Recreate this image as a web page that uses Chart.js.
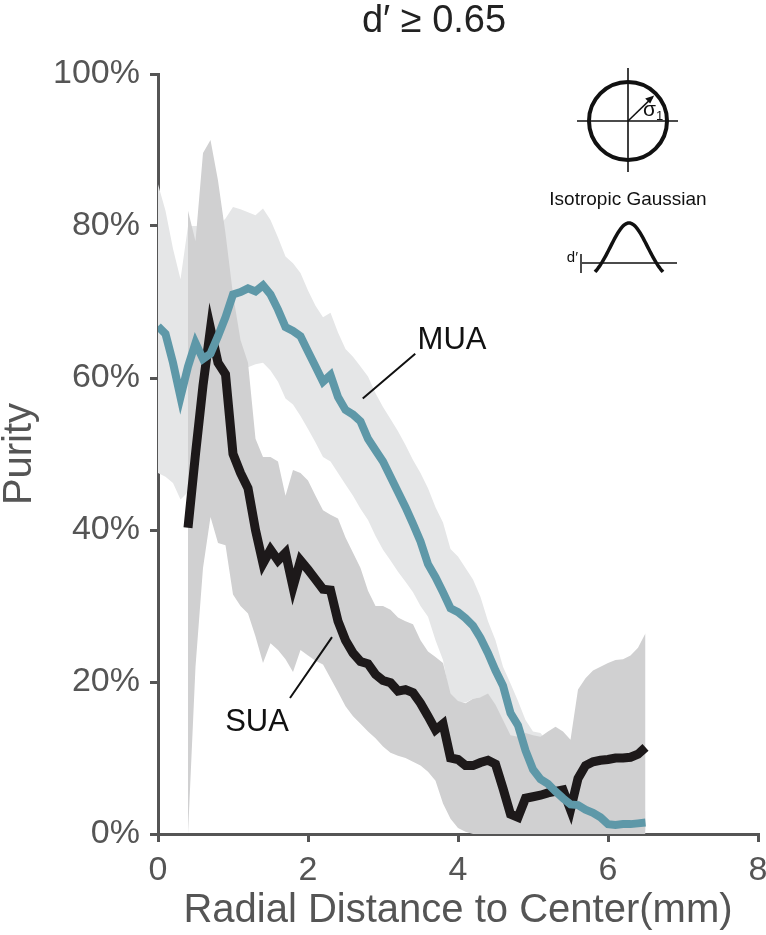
<!DOCTYPE html>
<html>
<head>
<meta charset="utf-8">
<script src="https://cdn.jsdelivr.net/npm/chart.js@4.4.1/dist/chart.umd.min.js"></script>
<style>
  body { margin: 0; background: #fff; }
  #wrap { width: 766px; height: 935px; }
</style>
</head>
<body>
<div id="wrap"><canvas id="purityChart"></canvas></div>
<script>
// radial distance (mm), sampled every 0.1 mm
const distances = [
  0.0, 0.1, 0.2, 0.3, 0.4, 0.5, 0.6, 0.7, 0.8, 0.9,
  1.0, 1.1, 1.2, 1.3, 1.4, 1.5, 1.6, 1.7, 1.8, 1.9,
  2.0, 2.1, 2.2, 2.3, 2.4, 2.5, 2.6, 2.7, 2.8, 2.9,
  3.0, 3.1, 3.2, 3.3, 3.4, 3.5, 3.6, 3.7, 3.8, 3.9,
  4.0, 4.1, 4.2, 4.3, 4.4, 4.5, 4.6, 4.7, 4.8, 4.9,
  5.0, 5.1, 5.2, 5.3, 5.4, 5.5, 5.6, 5.7, 5.8, 5.9,
  6.0, 6.1, 6.2, 6.3, 6.4, 6.5
];

// MUA purity (%) with its shaded range
const muaPurity = [
  66.8, 65.8, 62, 57.5, 61.5, 64.6, 62.5, 63.2, 65.5, 68,
  71, 71.3, 71.8, 71.4, 72.2, 71, 69, 66.7, 66.2, 65.5,
  63.5, 61.5, 59.5, 60.4, 57.5, 55.8, 55.2, 54.3, 52, 50.5,
  49, 47, 45, 43, 40.8, 38.5, 35.5, 33.8, 31.8, 29.7,
  29.2, 28.4, 27.4, 25.8, 23.8, 21.5, 19.5, 15.9, 14.3, 11,
  8.5, 7.2, 6.6, 5.6, 4.7, 3.9, 3.8, 3.2, 2.8, 2.2,
  1.3, 1.2, 1.3, 1.3, 1.4, 1.5
];
const muaUpper = [
  85.5, 82, 77, 73, 80, 80, 80, 80, 80, 81,
  82.5, 82.2, 81.8, 81.4, 82.3, 80.8, 78.5, 76, 75.1, 73.8,
  71.5, 69.5, 68, 68.6, 66, 63.8, 62.8, 61.5, 60.2, 58,
  56.2, 54.6, 53, 51.2, 49.2, 47.5, 45.5, 43, 41, 37.5,
  36.5, 35, 33.5, 31.2, 28, 25.5, 22, 19.8, 17.5, 15,
  13.5, 13.3, 12, 11, 9.5, 8, 7, 6, 5, 4,
  3, 3, 3, 3, 3, 3
];
const muaLower = [
  47.5, 47, 46.2, 44, 45, 47, 50, 52, 55, 58,
  60, 60.5, 61.4, 61.8, 62, 61, 59.5, 57.3, 56.5, 55,
  53.3, 51.5, 49.6, 49, 47.5, 46, 44.5, 42.8, 41.3, 39.2,
  37.4, 36, 34.5, 33.2, 31.8, 30, 28.6, 25.5, 22.9, 17.6,
  17.3, 17.3, 17.8, 18, 16, 14.5, 13, 10, 8.5, 6,
  4, 3, 2, 1.5, 1, 0.5, 0.5, 0.5, 0.5, 0.5,
  0.5, 0.5, 0.5, 0.5, 0.5, 0.5
];

// SUA purity (%) with its shaded range, starts at 0.4 mm
const suaPurity = [
  null, null, null, null, 40.3, 50, 59, 66.5, 62, 60.5,
  50, 47.5, 45.5, 40, 35.6, 37.4, 36, 37, 32.5, 36,
  34.8, 33.5, 32.2, 32.1, 28, 25.5, 23.8, 22.7, 22.4, 21,
  20.2, 19.9, 18.8, 19, 18.6, 17.2, 15.5, 13.7, 14.5, 10,
  9.8, 9, 9, 9.4, 9.7, 9.2, 6, 2.6, 2.2, 4.7,
  4.9, 5.1, 5.4, 5.6, 5.8, 3.2, 7.3, 9, 9.5, 9.7,
  9.8, 10, 10, 10.1, 10.5, 11.4
];
const suaUpper = [
  null, null, null, null, 82, 78, 89.6, 91.3, 86, 79,
  71, 65, 62, 52, 49.6, 49.6, 49, 44.5, 47.9, 47.5,
  46.5, 44.5, 42.6, 42, 41.5, 39, 37, 35, 32, 30,
  30, 29.5, 28.5, 28, 27.6, 25.5, 24, 23.3, 22.5, 18.5,
  17.5, 17.2, 17.8, 18, 18.5, 17, 15, 13, 12.8, 13.3,
  13, 12.8, 13.5, 14.1, 13.5, 12.4, 19, 20.5, 21.5, 22,
  22.5, 22.9, 23, 23.5, 24.5, 26.4
];
const suaLower = [
  null, null, null, null, 0, 22, 35, 41.7, 38.3, 38,
  31.5, 30, 29, 26, 22.5, 25.1, 24.2, 23, 21.3, 24.2,
  23.5, 22.8, 22.3, 20.5, 18.7, 16.8, 15.5, 14.5, 13.5, 12.6,
  11.5, 10.7, 10.3, 10, 9.5, 9, 8.2, 7, 4, 2,
  0.8, 0.3, 0, 0, 0, 0, 0, 0, 0, 0,
  0, 0, 0, 0, 0, 0, 0, 0, 0, 0,
  0, 0, 0, 0, 0, 0
];

const xTicks = [0, 2, 4, 6, 8];
const yTicks = [0, 20, 40, 60, 80, 100];

const FONT = "'Liberation Sans', Arial, Helvetica, sans-serif";
const AXIS_GRAY = "#555555";

function toPoints(values) {
  return distances
    .map((d, i) => ({ x: d, y: values[i] }))
    .filter((p) => p.y !== null);
}

// title, inset sketch and curve labels
const decorations = {
  id: "decorations",
  afterDraw(chart) {
    const ctx = chart.ctx;
    const xs = chart.scales.x;
    const ys = chart.scales.y;
    ctx.save();

    // title
    ctx.fillStyle = "#222";
    ctx.font = "38px " + FONT;
    ctx.textAlign = "center";
    ctx.textBaseline = "alphabetic";
    ctx.fillText("d\u2032 \u2265 0.65", 434, 32);

    // curve labels with leader lines
    ctx.fillStyle = "#111";
    ctx.strokeStyle = "#111";
    ctx.lineWidth = 2;
    ctx.font = "31px " + FONT;
    ctx.textBaseline = "middle";
    ctx.fillText("MUA", xs.getPixelForValue(3.92), ys.getPixelForValue(64.9));
    ctx.fillText("SUA", xs.getPixelForValue(1.32), ys.getPixelForValue(14.7));
    ctx.beginPath();
    ctx.moveTo(xs.getPixelForValue(3.43), ys.getPixelForValue(63.2));
    ctx.lineTo(xs.getPixelForValue(2.73), ys.getPixelForValue(57.3));
    ctx.moveTo(xs.getPixelForValue(2.32), ys.getPixelForValue(25.9));
    ctx.lineTo(xs.getPixelForValue(1.76), ys.getPixelForValue(17.9));
    ctx.stroke();

    // inset: circle with cross hairs
    const cx = 628, cy = 121, r = 39;
    ctx.strokeStyle = "#111";
    ctx.lineWidth = 1.6;
    ctx.beginPath();
    ctx.moveTo(577, cy);
    ctx.lineTo(678, cy);
    ctx.moveTo(cx, 68);
    ctx.lineTo(cx, 172);
    ctx.stroke();
    ctx.lineWidth = 4;
    ctx.beginPath();
    ctx.arc(cx, cy, r, 0, Math.PI * 2);
    ctx.stroke();
    // arrow
    const ax = cx + r * 0.62, ay = cy - r * 0.6;
    ctx.lineWidth = 1.5;
    ctx.beginPath();
    ctx.moveTo(cx, cy);
    ctx.lineTo(ax, ay);
    ctx.stroke();
    ctx.fillStyle = "#111";
    ctx.beginPath();
    ctx.moveTo(ax + 2, ay - 2);
    ctx.lineTo(ax - 7, ay + 1);
    ctx.lineTo(ax - 2, ay + 6);
    ctx.closePath();
    ctx.fill();
    ctx.font = "21px " + FONT;
    ctx.textAlign = "left";
    ctx.fillText("\u03c3", 643, 110);
    ctx.font = "13px " + FONT;
    ctx.fillText("1", 656, 116);

    ctx.font = "19px " + FONT;
    ctx.textAlign = "center";
    ctx.fillText("Isotropic Gaussian", 628, 200);

    // inset: gaussian with threshold
    ctx.lineWidth = 1.5;
    ctx.beginPath();
    ctx.moveTo(582, 263);
    ctx.lineTo(677, 263);
    ctx.moveTo(581, 254);
    ctx.lineTo(581, 273);
    ctx.stroke();
    ctx.lineWidth = 3.5;
    ctx.beginPath();
    for (let px = 595; px <= 663; px++) {
      const dx = px - 629;
      const py = 283 - 60 * Math.exp(-(dx * dx) / (2 * 18.5 * 18.5));
      if (px === 595) ctx.moveTo(px, py);
      else ctx.lineTo(px, py);
    }
    ctx.stroke();
    ctx.font = "15px " + FONT;
    ctx.textAlign = "right";
    ctx.fillText("d\u2032", 578, 258);

    ctx.restore();
  },
};

document.addEventListener("DOMContentLoaded", function () {
  const ctx = document.getElementById("purityChart").getContext("2d");
  const clear = "rgba(0,0,0,0)";

  new Chart(ctx, {
    type: "line",
    data: {
      datasets: [
        {
          label: "MUA",
          data: toPoints(muaPurity),
          borderColor: "#5e98a8",
          borderWidth: 8,
          pointRadius: 0,
          tension: 0,
          fill: false,
          order: 0,
        },
        {
          label: "SUA",
          data: toPoints(suaPurity),
          borderColor: "#1d191a",
          borderWidth: 9,
          pointRadius: 0,
          tension: 0,
          fill: false,
          order: 1,
        },
        {
          label: "SUA upper",
          data: toPoints(suaUpper),
          borderColor: clear,
          backgroundColor: "#d0d0d1",
          borderWidth: 1,
          pointRadius: 0,
          tension: 0,
          fill: "+1",
          order: 2,
        },
        {
          label: "SUA lower",
          data: toPoints(suaLower),
          borderColor: clear,
          borderWidth: 1,
          pointRadius: 0,
          tension: 0,
          fill: false,
          order: 2,
        },
        {
          label: "MUA upper",
          data: toPoints(muaUpper),
          borderColor: clear,
          backgroundColor: "#e5e6e7",
          borderWidth: 1,
          pointRadius: 0,
          tension: 0,
          fill: "+1",
          order: 3,
        },
        {
          label: "MUA lower",
          data: toPoints(muaLower),
          borderColor: clear,
          borderWidth: 1,
          pointRadius: 0,
          tension: 0,
          fill: false,
          order: 3,
        },
      ],
    },
    options: {
      responsive: true,
      maintainAspectRatio: false,
      animation: false,
      layout: {
        padding: { left: 0, right: 8, top: 74, bottom: 0 },
      },
      plugins: {
        legend: { display: false },
        title: { display: false },
        tooltip: { enabled: false },
      },
      scales: {
        x: {
          type: "linear",
          min: 0,
          max: 8,
          afterBuildTicks(scale) {
            scale.ticks = xTicks.map((v) => ({ value: v }));
          },
          afterFit(scale) {
            scale.height = 101;
            scale.paddingLeft = 0;
            scale.paddingRight = 0;
          },
          ticks: {
            color: AXIS_GRAY,
            font: { family: FONT, size: 34 },
            padding: 8,
            maxRotation: 0,
          },
          grid: {
            drawOnChartArea: false,
            tickLength: 8,
            color: AXIS_GRAY,
            lineWidth: 3,
          },
          border: { color: AXIS_GRAY, width: 3 },
          title: {
            display: true,
            text: "Radial Distance to Center(mm)",
            color: AXIS_GRAY,
            font: { family: FONT, size: 40, lineHeight: 1 },
            padding: { top: 0, bottom: 4 },
          },
        },
        y: {
          min: 0,
          max: 100,
          afterBuildTicks(scale) {
            scale.ticks = yTicks.map((v) => ({ value: v }));
          },
          afterFit(scale) {
            scale.width = 158;
            scale.paddingTop = 0;
            scale.paddingBottom = 0;
          },
          ticks: {
            color: AXIS_GRAY,
            font: { family: FONT, size: 34 },
            padding: 10,
            callback: (v) => v + "%",
          },
          grid: {
            drawOnChartArea: false,
            tickLength: 8,
            color: AXIS_GRAY,
            lineWidth: 3,
          },
          border: { color: AXIS_GRAY, width: 3 },
          title: {
            display: true,
            text: "Purity",
            color: AXIS_GRAY,
            font: { family: FONT, size: 40, lineHeight: 1 },
            padding: { top: 0, bottom: 0 },
          },
        },
      },
    },
    plugins: [decorations],
  });
});
</script>
</body>
</html>
